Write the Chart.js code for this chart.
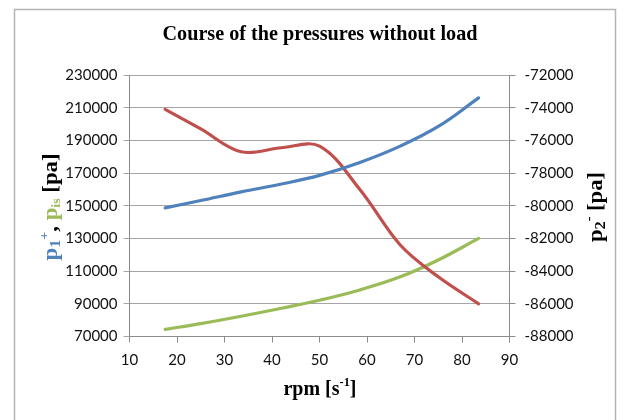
<!DOCTYPE html>
<html>
<head>
<meta charset="utf-8">
<script src="https://cdn.jsdelivr.net/npm/chart.js@4"></script>
<style>
  html, body { margin: 0; padding: 0; background: #fff; }
  #wrap { width: 624px; height: 420px; }
</style>
</head>
<body>
<div id="wrap"><canvas id="chart" width="624" height="420"></canvas></div>
<script>
// values
var rpm = [17.5, 25, 33.5, 42, 50, 58.5, 67, 75, 83.5];
var p1Plus = [148700, 153200, 158500, 163300, 168600, 176500, 186500, 198500, 216000];
var pIs = [74400, 77900, 82400, 87300, 92200, 98500, 106500, 116800, 130000];
var p2Minus = [-74100, -75300, -76700, -76450, -76350, -79000, -82400, -84350, -86000];

var xTicks = [10, 20, 30, 40, 50, 60, 70, 80, 90];
var leftTicks = [70000, 90000, 110000, 130000, 150000, 170000, 190000, 210000, 230000];
var rightTicks = [-88000, -86000, -84000, -82000, -80000, -78000, -76000, -74000, -72000];

var BLUE = '#4f81bd', RED = '#c0504d', GREEN = '#9bbb59';
var SERIF = '"Liberation Serif", "Times New Roman", serif';

function toPoints(xs, ys) {
    return xs.map(function (x, i) { return {x: x, y: ys[i]}; });
}

// draw a line of mixed text (colours, sub/superscripts), squeezed to a width
function drawRich(ctx, segs, cx, cy, rot, targetW) {
    ctx.save();
    ctx.translate(cx, cy);
    ctx.rotate(rot);
    var total = 0;
    segs.forEach(function (s) {
        ctx.font = 'bold ' + s.size + 'px ' + SERIF;
        s.w = ctx.measureText(s.t).width;
        total += s.w;
    });
    ctx.scale(targetW / total, 1);
    var x = -total / 2;
    ctx.textBaseline = 'alphabetic';
    ctx.textAlign = 'left';
    segs.forEach(function (s) {
        ctx.font = 'bold ' + s.size + 'px ' + SERIF;
        ctx.fillStyle = s.color || '#000';
        ctx.fillText(s.t, x, 7 + (s.dy || 0));
        x += s.w;
    });
    ctx.restore();
}

var decorPlugin = {
    id: 'decor',
    beforeDraw: function (chart) {
        var ctx = chart.ctx;
        ctx.save();
        ctx.fillStyle = '#fff';
        ctx.fillRect(0, 0, chart.width, chart.height);
        ctx.strokeStyle = '#b4b4b4';
        ctx.lineWidth = 1.5;
        ctx.strokeRect(14.5, 9.5, 601, 420);
        ctx.restore();
    },
    afterDraw: function (chart) {
        var ctx = chart.ctx;
        drawRich(ctx, [{t: 'Course of the pressures without load', size: 21}], 320, 33, 0, 315);
        drawRich(ctx, [
            {t: 'p', size: 21, color: BLUE},
            {t: '1', size: 15, color: BLUE, dy: 3},
            {t: '+', size: 13, color: BLUE, dy: -9},
            {t: ', ', size: 21, color: '#000'},
            {t: 'p', size: 21, color: GREEN},
            {t: 'is', size: 13, color: GREEN, dy: 3},
            {t: ' [pa]', size: 21, color: '#000'}
        ], 50, 207, -Math.PI / 2, 107);
        drawRich(ctx, [
            {t: 'p', size: 21},
            {t: '2', size: 15, dy: 3},
            {t: '-', size: 13, dy: -9},
            {t: ' [pa]', size: 21}
        ], 595, 207, -Math.PI / 2, 70);
        drawRich(ctx, [
            {t: 'rpm [s', size: 21},
            {t: '-1', size: 13, dy: -9},
            {t: ']', size: 21}
        ], 320, 388, 0, 73);
    }
};

var tickFont = {family: 'Lato, "Noto Sans", sans-serif', size: 15};

new Chart(document.getElementById('chart').getContext('2d'), {
    type: 'line',
    data: {
        datasets: [
            {label: 'p1+', data: toPoints(rpm, p1Plus), borderColor: BLUE, yAxisID: 'y'},
            {label: 'p2-', data: toPoints(rpm, p2Minus), borderColor: RED, yAxisID: 'y2', tension: 0.35},
            {label: 'pis', data: toPoints(rpm, pIs), borderColor: GREEN, yAxisID: 'y'}
        ]
    },
    options: {
        responsive: false,
        animation: false,
        layout: {padding: {top: 75, left: 0, right: 0, bottom: 0}},
        elements: {
            line: {borderWidth: 3.2, tension: 0.4, fill: false, borderCapStyle: 'round'},
            point: {radius: 0, hoverRadius: 0}
        },
        plugins: {legend: {display: false}, title: {display: false}, tooltip: {enabled: false}},
        scales: {
            x: {
                type: 'linear', min: 10, max: 90,
                afterBuildTicks: function (s) { s.ticks = xTicks.map(function (v) { return {value: v}; }); },
                afterFit: function (s) { s.height = 83.5; },
                grid: {drawOnChartArea: false, drawTicks: true, tickLength: 6, color: '#8c8c8c'},
                border: {display: true, color: '#8c8c8c', width: 1},
                ticks: {font: tickFont, color: '#111', padding: 9, maxRotation: 0,
                    callback: function (v) { return String(v); }}
            },
            y: {
                position: 'left', min: 70000, max: 230000,
                afterBuildTicks: function (s) { s.ticks = leftTicks.map(function (v) { return {value: v}; }); },
                afterFit: function (s) { s.width = 129.5; },
                grid: {color: '#a6a6a6', lineWidth: 1, drawTicks: true, tickLength: 6},
                border: {display: true, color: '#8c8c8c', width: 1},
                ticks: {font: tickFont, color: '#111', padding: 6,
                    callback: function (v) { return String(v); }}
            },
            y2: {
                position: 'right', min: -88000, max: -72000,
                afterBuildTicks: function (s) { s.ticks = rightTicks.map(function (v) { return {value: v}; }); },
                afterFit: function (s) { s.width = 114.5; },
                grid: {drawOnChartArea: false, drawTicks: true, tickLength: 6, color: '#8c8c8c'},
                border: {display: true, color: '#8c8c8c', width: 1},
                ticks: {font: tickFont, color: '#111', padding: 9,
                    callback: function (v) { return String(v); }}
            }
        }
    },
    plugins: [decorPlugin]
});
</script>
</body>
</html>
